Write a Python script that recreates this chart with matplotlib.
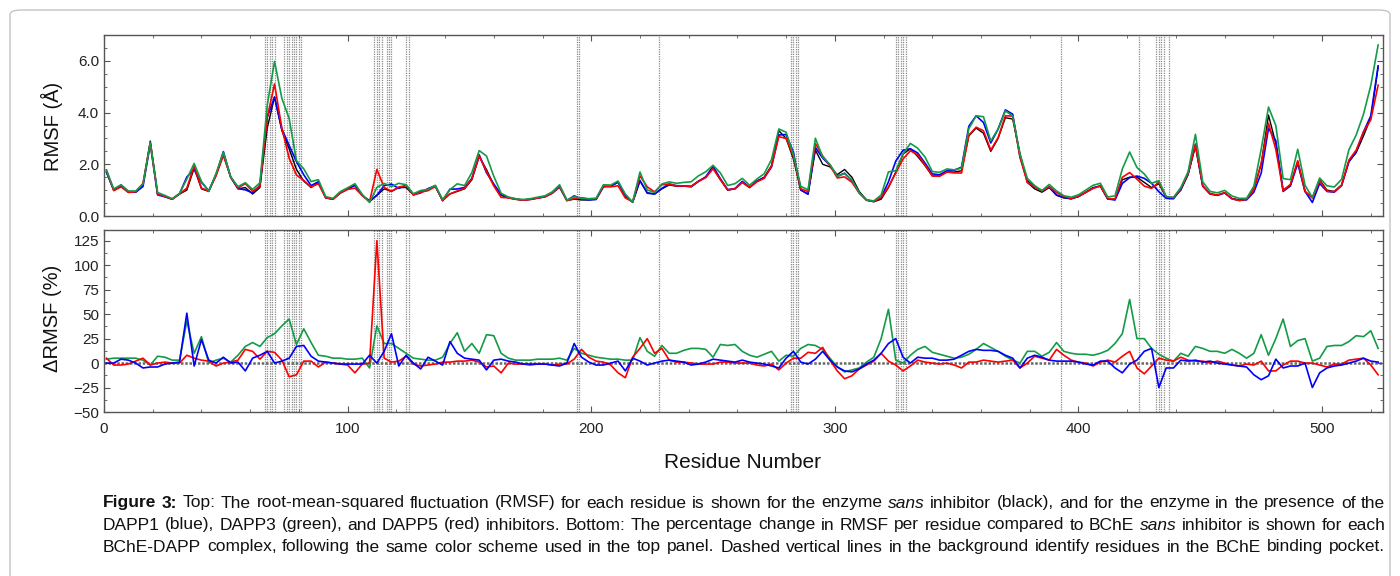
import numpy as np
import matplotlib
matplotlib.use("Agg")
import matplotlib.pyplot as plt
from matplotlib.ticker import MultipleLocator, FormatStrFormatter
from matplotlib.patches import FancyBboxPatch

plt.rcParams['font.family'] = ['Liberation Sans', 'DejaVu Sans']

W, H = 1400, 576

# residue grid (every 3rd residue)
residues = np.arange(1, 524, 3)

# RMSF of the enzyme sans inhibitor (Angstrom)
rmsf_apo = [
    1.70, 1.00, 1.15, 0.92, 0.92, 1.20, 2.90, 0.85, 0.75, 0.65,
    0.85, 1.00, 1.85, 1.05, 0.95, 1.60, 2.35, 1.50, 1.05, 1.10,
    0.85, 1.10, 3.40, 4.60, 3.30, 2.60, 1.80, 1.35, 1.10, 1.30,
    0.70, 0.65, 0.90, 1.05, 1.20, 0.80, 0.55, 0.80, 1.05, 0.95,
    1.10, 1.10, 0.82, 0.95, 1.00, 1.15, 0.60, 0.85, 0.95, 1.05,
    1.40, 2.30, 1.80, 1.20, 0.80, 0.70, 0.65, 0.62, 0.65, 0.70,
    0.75, 0.90, 1.15, 0.60, 0.65, 0.62, 0.62, 0.65, 1.15, 1.15,
    1.30, 0.82, 0.52, 1.35, 0.90, 0.85, 1.05, 1.20, 1.15, 1.15,
    1.15, 1.35, 1.50, 1.85, 1.40, 1.00, 1.05, 1.30, 1.10, 1.35,
    1.50, 1.95, 3.30, 3.00, 2.20, 1.00, 0.85, 2.55, 2.00, 1.90,
    1.60, 1.80, 1.50, 0.95, 0.62, 0.55, 0.65, 1.10, 1.70, 2.40,
    2.60, 2.30, 1.95, 1.55, 1.55, 1.70, 1.70, 1.75, 3.10, 3.40,
    3.20, 2.50, 3.00, 3.80, 3.75, 2.40, 1.30, 1.05, 0.92, 1.10,
    0.80, 0.70, 0.66, 0.75, 0.92, 1.10, 1.15, 0.65, 0.65, 1.40,
    1.50, 1.50, 1.30, 1.10, 1.25, 0.72, 0.70, 1.00, 1.60, 2.70,
    1.15, 0.85, 0.80, 0.90, 0.68, 0.62, 0.65, 1.05, 2.00, 3.90,
    2.80, 1.00, 1.20, 2.10, 0.95, 0.70, 1.40, 1.00, 0.95, 1.20,
    2.10, 2.45, 3.10, 3.80, 5.75,
]

# percentage change in RMSF relative to the enzyme sans inhibitor
pct_dapp1 = [
    0, 0, 4, 3, 0, -5, -4, -4, -1, 0,
    1, 51, -3, 24, 3, 0, 6, 0, 1, -8,
    5, 8, 12, 0, 2, 5, 17, 18, 7, 2,
    1, 0, -1, -1, -1, -1, 8, 0, 12, 30,
    -3, 8, 0, -6, 6, 2, -2, 22, 10, 5,
    4, 3, -7, 3, 4, 2, 1, -1, -1, -1,
    -1, -2, -3, 0, 20, 6, 1, -2, -2, 0,
    2, -8, 5, 2, -2, 0, 2, 3, 2, 1,
    -2, -1, 1, 4, 3, 2, 1, 3, 1, 0,
    -1, -3, -5, 5, 12, 1, -1, 4, 12, 3,
    -4, -8, -9, -6, -1, 3, 10, 20, 25, 6,
    0, 6, 5, 5, 3, 3, 4, 8, 12, 14,
    13, 13, 12, 8, 5, -5, 5, 8, 6, 3,
    2, 2, 2, 1, -1, -2, 2, 2, -5, -10,
    -1, 3, 12, 15, -25, -5, -5, 3, 2, 3,
    1, 2, 0, -1, -2, -3, -4, -12, -17, -13,
    4, -5, -3, -3, 0, -25, -10, -5, -3, -2,
    0, 2, 5, 2, 1,
]

pct_dapp3 = [
    4, 5, 5, 5, 5, 3, -2, 7, 6, 3,
    3, 43, 10, 27, 0, 3, 5, 1, 8, 17,
    21, 17, 26, 30, 38, 45, 19, 35, 21, 8,
    7, 5, 5, 4, 4, 5, -5, 38, 20, 20,
    15, 10, 5, 4, 3, 3, 6, 20, 31, 12,
    20, 10, 29, 28, 10, 5, 3, 3, 3, 4,
    4, 4, 5, 3, 15, 10, 8, 6, 5, 4,
    4, 3, 3, 26, 12, 7, 18, 10, 10, 13,
    15, 15, 14, 6, 19, 18, 19, 12, 8, 6,
    9, 12, 2, 8, 7, 15, 19, 18, 14, 5,
    -4, -9, -7, -5, 1, 6, 25, 55, 3, 0,
    8, 14, 17, 11, 9, 7, 5, 6, 9, 14,
    20, 16, 12, 7, 3, 0, 12, 12, 7, 11,
    21, 12, 10, 9, 9, 8, 10, 13, 20, 30,
    65, 25, 25, 15, 9, 5, 2, 10, 7, 17,
    15, 12, 12, 10, 14, 10, 5, 10, 29, 8,
    25, 45, 17, 23, 25, 2, 5, 17, 18, 18,
    22, 28, 27, 33, 15,
]

pct_dapp5 = [
    5, -2, -2, -1, 2, 5, -2, 0, 1, 0,
    0, 8, 5, 3, 2, -3, 0, 1, 3, 14,
    12, 4, 12, 11, 3, -14, -12, 2, 2, -4,
    1, 0, -1, -2, -10, -1, 0, 125, 5, 1,
    2, 7, -1, -3, -2, -1, 1, 1, 2, 2,
    3, 1, -4, -3, -10, 0, -1, -1, -2, -1,
    -1, -2, -1, -1, 4, 14, 6, 2, 1, -2,
    -10, -15, 6, 15, 25, 10, 15, 3, 1, 1,
    0, -1, -1, -1, 1, 1, 0, 0, 0, -2,
    -3, -1, -7, 0, 5, 5, 11, 10, 16, 3,
    -8, -16, -13, -6, -2, 2, 10, 2, -2, -8,
    -3, 3, 1, 0, -1, 0, -2, -5, 1, 1,
    3, 2, 1, 2, 3, -5, 0, 7, 5, 3,
    14, 8, 3, 1, 0, -3, 1, 3, 1, 7,
    12, -5, -11, -3, 5, 3, 2, 6, 3, 2,
    2, 0, 2, 0, -2, -3, -1, -2, 2, -8,
    -8, -2, 2, 2, 0, 0, -2, -4, -1, -1,
    3, 4, 5, -2, -12,
]

# residues in the BChE binding pocket (dashed vertical lines)
pocket_residues = [66, 67, 68, 69, 70, 74, 75, 76, 77, 78, 79, 80, 81,
                   111, 112, 113, 114, 116, 117, 118, 124, 125, 194, 195,
                   228, 282, 283, 284, 285, 325, 326, 327, 328, 329,
                   393, 425, 432, 433, 434, 435, 437]

apo = np.array(rmsf_apo)
rmsf_dapp1 = apo * (1 + np.array(pct_dapp1) / 100.0)
rmsf_dapp3 = apo * (1 + np.array(pct_dapp3) / 100.0)
rmsf_dapp5 = apo * (1 + np.array(pct_dapp5) / 100.0)

BLUE = '#0000ff'
GREEN = '#139b48'
RED = '#ff0000'

fig = plt.figure(figsize=(W / 100, H / 100), dpi=100)

# light rounded frame around the figure
frame = FancyBboxPatch((10 / W, -0.05), 1380 / W, 1 - 10 / H + 0.05,
                       boxstyle="round,pad=0,rounding_size=0.008",
                       transform=fig.transFigure, fill=False,
                       edgecolor='#c4c4c4', lw=1.0)
fig.patches.append(frame)

left = 104 / W
width = (1383 - 104) / W
ax1 = fig.add_axes([left, 1 - 216 / H, width, (216 - 35) / H])
ax2 = fig.add_axes([left, 1 - 412 / H, width, (412 - 230) / H])

for ax in (ax1, ax2):
    for r in pocket_residues:
        ax.axvline(r, color='#8a8a8a', lw=0.9, ls=(0, (1.0, 0.9)), zorder=0)
    ax.set_xlim(0, 525)
    ax.xaxis.set_major_locator(MultipleLocator(100))
    ax.xaxis.set_minor_locator(MultipleLocator(20))
    ax.tick_params(which='both', direction='in', top=True, right=True,
                   colors='#555555', labelcolor='#222222', labelsize=11)
    ax.tick_params(which='major', length=4, width=0.8)
    ax.tick_params(which='minor', length=2.5, width=0.6)
    for sp in ax.spines.values():
        sp.set_color('#555555')
        sp.set_linewidth(1.0)

# top panel: RMSF
ax1.plot(residues, apo, color='black', lw=1.0, zorder=2)
ax1.plot(residues, rmsf_dapp1, color=BLUE, lw=1.2, zorder=3)
ax1.plot(residues, rmsf_dapp5, color=RED, lw=1.2, zorder=4)
ax1.plot(residues, rmsf_dapp3, color=GREEN, lw=1.2, zorder=5)
ax1.set_ylim(0, 7.0)
ax1.yaxis.set_major_locator(MultipleLocator(2))
ax1.yaxis.set_minor_locator(MultipleLocator(0.5))
ax1.yaxis.set_major_formatter(FormatStrFormatter('%.1f'))
ax1.tick_params(labelbottom=False)

# bottom panel: percentage change
ax2.axhline(0, color='#666666', lw=1.8, ls=(0, (1.0, 0.7)), zorder=1)
ax2.plot(residues, pct_dapp3, color=GREEN, lw=1.2, zorder=3)
ax2.plot(residues, pct_dapp5, color=RED, lw=1.2, zorder=4)
ax2.plot(residues, pct_dapp1, color=BLUE, lw=1.2, zorder=5)
ax2.set_ylim(-50, 136)
ax2.yaxis.set_major_locator(MultipleLocator(25))
ax2.yaxis.set_minor_locator(MultipleLocator(12.5))
ax2.tick_params(axis='x', pad=7)

fig.text(52 / W, 1 - 126 / H, 'RMSF (Å)', rotation=90, fontsize=14.5,
         ha='center', va='center', color='#111111')
fig.text(52 / W, 1 - 318 / H, 'ΔRMSF (%)', rotation=90, fontsize=14.5,
         ha='center', va='center', color='#111111')
fig.text(743 / W, 1 - 463 / H, 'Residue Number', fontsize=15,
         ha='center', va='center', color='#111111')

# justified caption
caption = [
    "Figure 3: Top: The root-mean-squared fluctuation (RMSF) for each residue is shown for the "
    "enzyme sans inhibitor (black), and for the enzyme in the presence of the",
    "DAPP1 (blue), DAPP3 (green), and DAPP5 (red) inhibitors. Bottom: The percentage change in "
    "RMSF per residue compared to BChE sans inhibitor is shown for each",
    "BChE-DAPP complex, following the same color scheme used in the top panel. Dashed vertical "
    "lines in the background identify residues in the BChE binding pocket.",
]
caption_y = [503, 525, 547]
cap_x0, cap_x1 = 103, 1385
renderer = fig.canvas.get_renderer()

# pick the font size at which the widest line just fills the text block
probe = fig.text(0, 0, '', fontsize=10)
natural = []
for line in caption:
    probe.set_text(line)
    natural.append(probe.get_window_extent(renderer).width)
probe.remove()
cap_size = 10 * (cap_x1 - cap_x0) / max(natural) * 0.995

for li, (line, y) in enumerate(zip(caption, caption_y)):
    words = line.split(' ')
    texts = []
    for wi, w in enumerate(words):
        kw = {}
        if li == 0 and wi < 2:
            kw['fontweight'] = 'bold'
        if w == 'sans':
            kw['fontstyle'] = 'italic'
        texts.append(fig.text(0, 1 - y / H, w, fontsize=cap_size, va='center',
                              ha='left', color='#111111', **kw))
    widths = [t.get_window_extent(renderer).width for t in texts]
    gap = (cap_x1 - cap_x0 - sum(widths)) / (len(texts) - 1)
    x = cap_x0
    for t, wd in zip(texts, widths):
        t.set_x(x / W)
        x += wd + gap

fig.savefig('out.png', dpi=100)
